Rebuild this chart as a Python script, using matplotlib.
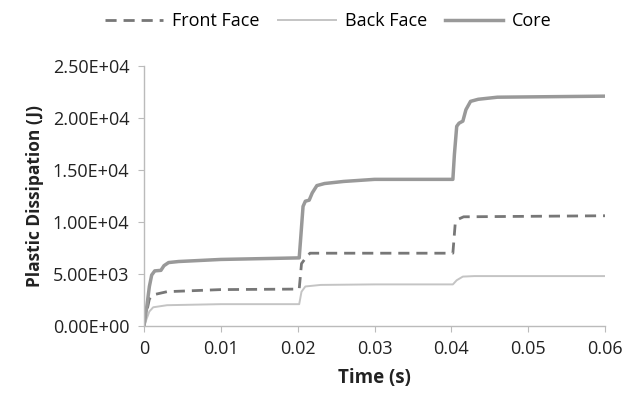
import matplotlib.pyplot as plt
from matplotlib.ticker import FuncFormatter

plt.rcParams['font.family'] = ['Open Sans', 'DejaVu Sans']

# plastic dissipation histories (time in s, energy in J)
t_core = [0, 0.0003, 0.0007, 0.0010, 0.0014, 0.0022, 0.0026, 0.0032, 0.0045, 0.010, 0.0202,
          0.0204, 0.0207, 0.0210, 0.0215, 0.0219, 0.0225, 0.0235, 0.026, 0.030, 0.0402,
          0.0404, 0.0407, 0.0410, 0.0415, 0.0419, 0.0425, 0.0435, 0.046, 0.060]
core = [0, 1500, 3800, 4900, 5300, 5350, 5800, 6100, 6200, 6400, 6550,
        8500, 11500, 12000, 12100, 12800, 13500, 13700, 13900, 14100, 14100,
        16500, 19200, 19500, 19700, 20800, 21600, 21800, 22000, 22100]

t_front = [0, 0.0003, 0.0007, 0.0012, 0.0030, 0.010, 0.0202, 0.0205, 0.0210, 0.0216,
           0.030, 0.0402, 0.0405, 0.0410, 0.0416, 0.060]
front = [0, 1200, 2600, 3000, 3300, 3500, 3550, 6000, 6500, 7000,
         7000, 7000, 9800, 10300, 10500, 10600]

t_back = [0, 0.0003, 0.0007, 0.0012, 0.0030, 0.010, 0.0202, 0.0205, 0.0210, 0.0230,
          0.030, 0.0402, 0.0407, 0.0415, 0.0430, 0.060]
back = [0, 600, 1400, 1800, 2000, 2100, 2100, 3300, 3800, 3950,
        4000, 4000, 4400, 4750, 4800, 4800]


def sci_label(v, _):
    # Excel-style scientific labels, e.g. 2.50E+04
    if v == 0:
        return '0.00E+00'
    e = len(str(int(v))) - 1
    return '{:.2f}E+{:02d}'.format(v / 10 ** e, e)


fig = plt.figure(figsize=(6.28, 3.97), dpi=100)
ax = fig.add_axes([144 / 628, 1 - 326 / 397, 461 / 628, 260 / 397])

ax.plot(t_front, front, color='#777777', lw=2.0, ls=(0, (4, 2.5)), label='Front Face')
ax.plot(t_back, back, color='#c4c4c4', lw=1.4, label='Back Face')
ax.plot(t_core, core, color='#999999', lw=2.5, label='Core')

ax.set_xlim(0, 0.06)
ax.set_ylim(0, 25000)
ax.set_xticks([0, 0.01, 0.02, 0.03, 0.04, 0.05, 0.06])
ax.set_xticklabels(['0', '0.01', '0.02', '0.03', '0.04', '0.05', '0.06'])
ax.set_yticks(range(0, 25001, 5000))
ax.yaxis.set_major_formatter(FuncFormatter(sci_label))

for s in ['top', 'right']:
    ax.spines[s].set_visible(False)
for s in ['left', 'bottom']:
    ax.spines[s].set_color('#bbbbbb')
    ax.spines[s].set_linewidth(1.0)
ax.tick_params(colors='#bbbbbb', labelcolor='#222222', labelsize=13, length=4)
ax.tick_params(axis='x', pad=6)
ax.tick_params(axis='y', pad=6.5)

ax.set_xlabel('Time (s)', fontsize=13.5, fontweight='bold', color='#222222', labelpad=7)
ax.set_ylabel('Plastic Dissipation (J)', fontsize=12.5, fontweight='bold', color='#222222', labelpad=6)

fig.legend(loc='upper center', bbox_to_anchor=(0.523, 1.01), ncol=3, frameon=False,
           fontsize=13, handlelength=3.2, columnspacing=1.0, handletextpad=0.5)

fig.savefig('out.png', dpi=100)
